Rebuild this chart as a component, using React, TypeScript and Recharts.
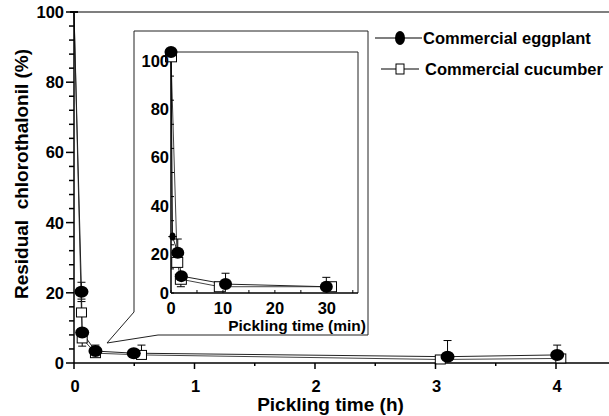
import { LineChart, Line, XAxis, YAxis, ErrorBar, ReferenceLine, Legend } from 'recharts';

const FONT = 'Arial, "Liberation Sans", Helvetica, sans-serif';
const TICK_COLOR = '#000';

// main plot, time in hours
const eggplantHours = [0, 0.062, 0.068, 0.178, 0.496, 3.1, 4.01];
const eggplantResidual = [100, 20.3, 8.7, 3.4, 2.8, 1.8, 2.3];
const eggplantError = [[0, 0], [2.8, 2.7], [0, 0.8], [0, 1.7], [0, 0], [0, 4.6], [0, 2.8]];

const cucumberHours = [0, 0.062, 0.068, 0.178, 0.56, 3.04, 4.04];
const cucumberResidual = [100, 14.4, 7.0, 2.8, 2.3, 1.0, 1.3];
const cucumberError = [[0, 0], [0, 3.8], [2.2, 0], [0, 0], [0, 2.8], [0, 0], [0, 0]];

// inset, time in minutes
const eggplantMinutes = [0, 0.3, 1.3, 2.0, 10.5, 29.9];
const eggplantResidualMin = [100, 23.4, 16.7, 7.0, 3.7, 2.6];
const eggplantErrorMin = [[0, 0], [0, 0], [0, 5.7], [0, 0], [0, 4.5], [0, 3.9]];

const cucumberMinutes = [0, 1.2, 1.9, 9.4, 30.8];
const cucumberResidualMin = [98, 12.7, 5.7, 2.6, 2.6];
const cucumberErrorMin = [[0, 0], [0, 0], [3.1, 0], [0, 0], [0, 0]];

const hourTicks = [0, 0.5, 1, 1.5, 2, 2.5, 3, 3.5, 4];
const residualTicks = Array.from({ length: 26 }, (_, i) => i * 4);
const minuteTicks = [0, 5, 10, 15, 20, 25, 30, 35];
const insetResidualTicks = [0, 10, 20, 30, 40, 50, 60, 70, 80, 90, 100];

const legendNames = ['Commercial eggplant', 'Commercial cucumber'];

const build = (xs: number[], ys: number[], errs: number[][]) =>
    xs.map((x, i) => ({ x, y: ys[i], err: errs[i] }));

const eggMain = build(eggplantHours, eggplantResidual, eggplantError);
const cucMain = build(cucumberHours, cucumberResidual, cucumberError);
const eggInset = build(eggplantMinutes, eggplantResidualMin, eggplantErrorMin);
const cucInset = build(cucumberMinutes, cucumberResidualMin, cucumberErrorMin);

// the start point (0 h, 100 %) has no marker in the main plot
const circleDot = (p: any) =>
    p.payload.x === 0 ? <g key={`c-${p.index}`} /> : (
        <ellipse key={`c-${p.index}`} cx={p.cx} cy={p.cy} rx={7} ry={6} fill="#000" />
    );
const squareDot = (p: any) =>
    p.payload.x === 0 ? <g key={`s-${p.index}`} /> : (
        <rect key={`s-${p.index}`} x={p.cx - 5} y={p.cy - 4.5} width={10} height={9} fill="#fff" stroke="#000" strokeWidth={1} />
    );
const insetCircle = (p: any) => {
    const small = p.payload.x > 0 && p.payload.x < 1;
    return <ellipse key={`ic-${p.index}`} cx={p.cx} cy={p.cy} rx={small ? 3 : 6.5} ry={small ? 4 : 6} fill="#000" />;
};
const insetSquare = (p: any) => (
    <rect key={`is-${p.index}`} x={p.cx - 5.5} y={p.cy - 5} width={11} height={10} fill="#fff" stroke="#000" strokeWidth={1} />
);

const tickText = { fontFamily: FONT, fontWeight: 'bold', fontSize: 16.5, fill: '#000' } as const;

const MainYTick = ({ x, y, payload }: any) => {
    const major = payload.value % 20 === 0;
    return (
        <g>
            <line x1={x} x2={x - (major ? 8 : 5)} y1={y} y2={y} stroke={TICK_COLOR} strokeWidth={1.5} />
            {major && (
                <text x={x - 10} y={y} dy="0.36em" textAnchor="end" {...tickText}>
                    {payload.value}
                </text>
            )}
        </g>
    );
};

const MainXTick = ({ x, y, payload }: any) => {
    const major = payload.value % 1 === 0;
    return (
        <g>
            <line x1={x} x2={x} y1={y} y2={y + (major ? 6 : 3)} stroke={TICK_COLOR} strokeWidth={1.5} />
            {major && (
                <text x={x + 1} y={y + 23} dy="0.36em" textAnchor="middle" {...tickText}>
                    {payload.value}
                </text>
            )}
        </g>
    );
};

const InsetYTick = ({ x, y, payload }: any) => {
    const major = payload.value % 20 === 0;
    return (
        <g>
            <line x1={x} x2={x + 3} y1={y} y2={y} stroke={TICK_COLOR} strokeWidth={1} />
            {major && (
                <text x={x - 2} y={y + (payload.value === 0 ? 0 : 9)} dy="0.36em" textAnchor="end" {...tickText}>
                    {payload.value}
                </text>
            )}
        </g>
    );
};

const InsetXTick = ({ x, y, payload }: any) => {
    const major = payload.value % 10 === 0;
    return (
        <g>
            <line x1={x} x2={x} y1={y} y2={y - 3} stroke={TICK_COLOR} strokeWidth={1} />
            {major && payload.value <= 30 && (
                <text x={x} y={y + 15} dy="0.36em" textAnchor="middle" {...tickText}>
                    {payload.value}
                </text>
            )}
        </g>
    );
};

const MainXLabel = ({ viewBox }: any) => (
    <text x={viewBox.x + viewBox.width / 2 - 11} y={viewBox.y + 41} dy="0.36em" textAnchor="middle" fontFamily={FONT} fontWeight="bold" fontSize={19} fill="#000">
        Pickling time (h)
    </text>
);

const MainYLabel = ({ viewBox }: any) => {
    const cx = viewBox.x + 21;
    const cy = viewBox.y + viewBox.height / 2 - 13.5;
    return (
        <text x={cx} y={cy} dy="0.36em" textAnchor="middle" transform={`rotate(-90 ${cx} ${cy})`} fontFamily={FONT} fontWeight="bold" fontSize={19} fill="#000" style={{ whiteSpace: 'pre' }}>
            {'Residual  chlorothalonil (%)'}
        </text>
    );
};

const InsetXLabel = ({ viewBox }: any) => (
    <text x={viewBox.x + viewBox.width + 8} y={viewBox.y + 32} dy="0.36em" textAnchor="end" fontFamily={FONT} fontWeight="bold" fontSize={15.5} fill="#000">
        Pickling time (min)
    </text>
);

const LegendBox = () => (
    <svg width={239} height={60}>
        <line x1={5} x2={52} y1={12} y2={12} stroke="#000" strokeWidth={1.2} />
        <ellipse cx={30} cy={12} rx={5} ry={7} fill="#000" />
        <text x={53} y={12} dy="0.36em" {...tickText}>{legendNames[0]}</text>
        <line x1={11} x2={49} y1={43} y2={43} stroke="#000" strokeWidth={1.2} />
        <rect x={26} y={38} width={8} height={10} fill="#fff" stroke="#000" strokeWidth={1} />
        <text x={55} y={43} dy="0.36em" {...tickText}>{legendNames[1]}</text>
    </svg>
);

export default function App() {
    return (
        <div style={{ position: 'absolute', left: 0, top: 0, width: 609, height: 416, background: '#fff', overflow: 'hidden' }}>
            <div style={{ position: 'absolute', left: 0, top: 0 }}>
                <LineChart width={609} height={416} margin={{ top: 12, right: 0, bottom: 0, left: 0 }}>
                    <XAxis
                        dataKey="x"
                        type="number"
                        domain={[0, 4.44]}
                        ticks={hourTicks}
                        interval={0}
                        height={53}
                        tickSize={0}
                        tickMargin={0}
                        tickLine={false}
                        tick={<MainXTick />}
                        axisLine={{ stroke: '#000', strokeWidth: 1.5 }}
                        label={<MainXLabel />}
                    />
                    <YAxis
                        type="number"
                        domain={[0, 100]}
                        ticks={residualTicks}
                        interval={0}
                        width={74}
                        tickSize={0}
                        tickMargin={0}
                        tickLine={false}
                        tick={<MainYTick />}
                        axisLine={{ stroke: '#000', strokeWidth: 1.5 }}
                        label={<MainYLabel />}
                    />
                    <ReferenceLine y={100} stroke="#000" strokeWidth={1.2} />
                    <Legend layout="vertical" align="center" verticalAlign="middle" content={<LegendBox />} wrapperStyle={{ left: 370, top: 26, width: 239, height: 60 }} />
                    <Line data={cucMain} dataKey="y" type="linear" stroke="#444" strokeWidth={1} dot={squareDot} isAnimationActive={false} name={legendNames[1]}>
                        <ErrorBar dataKey="err" direction="y" width={4} stroke="#000" strokeWidth={1} />
                    </Line>
                    <Line data={eggMain} dataKey="y" type="linear" stroke="#222" strokeWidth={1} dot={circleDot} isAnimationActive={false} name={legendNames[0]}>
                        <ErrorBar dataKey="err" direction="y" width={4} stroke="#000" strokeWidth={1} />
                    </Line>
                </LineChart>
            </div>
            <svg style={{ position: 'absolute', left: 0, top: 0 }} width={609} height={416}>
                <polygon points="134,31 368,31 368,335 158,335 107,343 134,312" fill="#fff" stroke="#222" strokeWidth={1} />
            </svg>
            <div style={{ position: 'absolute', left: 134, top: 31 }}>
                <LineChart width={234} height={304} margin={{ top: 21, right: 10, bottom: 0, left: 0 }}>
                    <XAxis
                        dataKey="x"
                        type="number"
                        domain={[0, 36]}
                        ticks={minuteTicks}
                        interval={0}
                        height={42}
                        tickSize={0}
                        tickMargin={0}
                        tickLine={false}
                        tick={<InsetXTick />}
                        axisLine={{ stroke: '#000', strokeWidth: 1.5 }}
                        label={<InsetXLabel />}
                    />
                    <YAxis
                        type="number"
                        domain={[0, 100]}
                        ticks={insetResidualTicks}
                        interval={0}
                        width={37}
                        tickSize={0}
                        tickMargin={0}
                        tickLine={false}
                        tick={<InsetYTick />}
                        axisLine={{ stroke: '#000', strokeWidth: 1.5 }}
                    />
                    <ReferenceLine y={100} stroke="#222" strokeWidth={1} />
                    <ReferenceLine x={36} stroke="#222" strokeWidth={1} />
                    <Line data={cucInset} dataKey="y" type="linear" stroke="#444" strokeWidth={1} dot={insetSquare} isAnimationActive={false}>
                        <ErrorBar dataKey="err" direction="y" width={4} stroke="#000" strokeWidth={1} />
                    </Line>
                    <Line data={eggInset} dataKey="y" type="linear" stroke="#222" strokeWidth={1} dot={insetCircle} isAnimationActive={false}>
                        <ErrorBar dataKey="err" direction="y" width={4} stroke="#000" strokeWidth={1} />
                    </Line>
                </LineChart>
            </div>
        </div>
    );
}
